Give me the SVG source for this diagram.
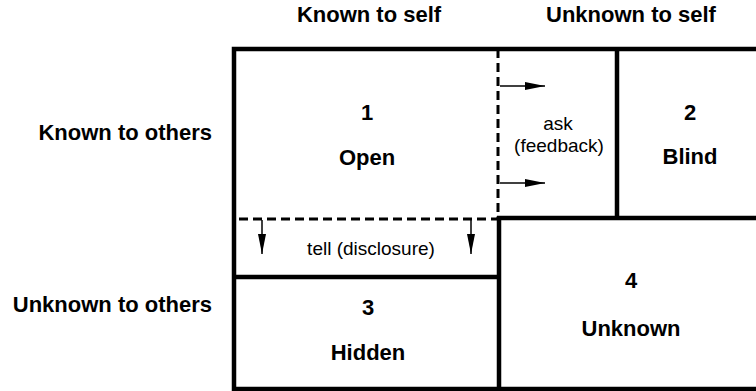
<svg xmlns="http://www.w3.org/2000/svg" width="756" height="391" viewBox="0 0 756 391">
  <style>
    .frame { fill: none; stroke: #000; stroke-width: 4.5; }
    .wall { stroke: #000; stroke-width: 4.5; fill: none; }
    .dash { stroke: #000; stroke-width: 3; stroke-dasharray: 9 5; fill: none; }
    .flow { stroke: #000; stroke-width: 1.5; fill: none; marker-end: url(#head); }
    .b { font-family: "Liberation Sans", Arial, sans-serif; font-weight: bold; font-size: 22px; fill: #000; }
    .r { font-family: "Liberation Sans", Arial, sans-serif; font-size: 19px; fill: #000; }
    .c { text-anchor: middle; }
    .e { text-anchor: end; }
  </style>
  <defs>
    <marker id="head" viewBox="0 0 20 10" refX="20" refY="5" markerWidth="20" markerHeight="10" markerUnits="userSpaceOnUse" orient="auto">
      <path d="M0,1 L20,5 L0,9 Z" fill="#000"/>
    </marker>
  </defs>
  <rect width="756" height="391" fill="#fff"/>

  <!-- axis headings -->
  <g id="headings">
    <text class="b c" x="369" y="22">Known to self</text>
    <text class="b c" x="631" y="22">Unknown to self</text>
    <text class="b e" x="212" y="140">Known to others</text>
    <text class="b e" x="212" y="312">Unknown to others</text>
  </g>

  <!-- outer window frame, open on the right -->
  <g id="frame">
    <path class="frame" d="M760,49 H234 V389 H760"/>
  </g>

  <g id="open">
    <path class="dash" d="M498,49 V219 H234"/>
    <text class="b c" x="367" y="120">1</text>
    <text class="b c" x="367" y="165">Open</text>
  </g>

  <g id="blind">
    <path class="wall" d="M617,49 V218 M497,218 H760"/>
    <text class="b c" x="690" y="120">2</text>
    <text class="b c" x="690" y="164">Blind</text>
  </g>

  <g id="hidden">
    <path class="wall" d="M234,277 H499"/>
    <text class="b c" x="368" y="315">3</text>
    <text class="b c" x="368" y="360">Hidden</text>
  </g>

  <g id="unknown">
    <path class="wall" d="M499,216 V389"/>
    <text class="b c" x="631" y="288">4</text>
    <text class="b c" x="631" y="336">Unknown</text>
  </g>

  <!-- feedback and disclosure arrows -->
  <g id="connectors">
    <line class="flow" x1="500" y1="86" x2="545" y2="86"/>
    <line class="flow" x1="500" y1="183" x2="545" y2="183"/>
    <line class="flow" x1="262" y1="220" x2="262" y2="254"/>
    <line class="flow" x1="471" y1="220" x2="471" y2="254"/>
    <text class="r c" x="558" y="130">ask</text>
    <text class="r c" x="559" y="152">(feedback)</text>
    <text class="r c" x="371" y="255">tell (disclosure)</text>
  </g>
</svg>
